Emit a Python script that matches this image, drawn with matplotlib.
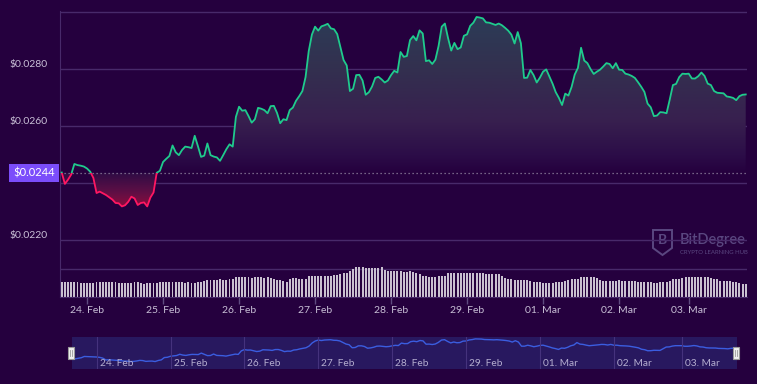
import numpy as np
import pandas as pd
import matplotlib
matplotlib.use('Agg')
import matplotlib.pyplot as plt
from matplotlib.patches import Rectangle, Polygon
from matplotlib.path import Path
from matplotlib.colors import LinearSegmentedColormap
from matplotlib.transforms import blended_transform_factory, ScaledTranslation

plt.rcParams['font.family'] = ['Lato', 'DejaVu Sans']

# hourly price (USD)
price = [
    0.02438, 0.02398, 0.02413, 0.02431, 0.02468, 0.02464, 0.02462, 0.02459, 0.02452, 0.02441,
    0.02419, 0.02366, 0.02371, 0.02365, 0.02359, 0.02351, 0.02343, 0.02331, 0.02330, 0.02319,
    0.02323, 0.02335, 0.02353, 0.02347, 0.02324, 0.02331, 0.02333, 0.02319, 0.02350, 0.02368,
    0.02437, 0.02444, 0.02475, 0.02486, 0.02496, 0.02533, 0.02509, 0.02499, 0.02517, 0.02529,
    0.02527, 0.02524, 0.02567, 0.02531, 0.02493, 0.02497, 0.02540, 0.02499, 0.02494, 0.02491,
    0.02479, 0.02499, 0.02520, 0.02537, 0.02529, 0.02633, 0.02669, 0.02655, 0.02657, 0.02636,
    0.02613, 0.02625, 0.02665, 0.02662, 0.02657, 0.02646, 0.02671, 0.02672, 0.02647, 0.02611,
    0.02625, 0.02622, 0.02657, 0.02666, 0.02690, 0.02706, 0.02724, 0.02773, 0.02864, 0.02922,
    0.02950, 0.02936, 0.02951, 0.02955, 0.02960, 0.02944, 0.02941, 0.02924, 0.02878, 0.02833,
    0.02814, 0.02724, 0.02732, 0.02780, 0.02781, 0.02761, 0.02711, 0.02720, 0.02740, 0.02770,
    0.02774, 0.02765, 0.02754, 0.02761, 0.02780, 0.02795, 0.02789, 0.02861, 0.02844, 0.02847,
    0.02903, 0.02917, 0.02902, 0.02937, 0.02926, 0.02829, 0.02832, 0.02819, 0.02834, 0.02882,
    0.02950, 0.02961, 0.02910, 0.02866, 0.02893, 0.02871, 0.02877, 0.02918, 0.02923, 0.02953,
    0.02964, 0.02984, 0.02982, 0.02979, 0.02965, 0.02964, 0.02960, 0.02956, 0.02961, 0.02955,
    0.02946, 0.02936, 0.02922, 0.02891, 0.02931, 0.02892, 0.02770, 0.02771, 0.02798, 0.02780,
    0.02754, 0.02771, 0.02792, 0.02800, 0.02775, 0.02750, 0.02720, 0.02700, 0.02675, 0.02715,
    0.02708, 0.02738, 0.02782, 0.02805, 0.02876, 0.02831, 0.02822, 0.02801, 0.02784, 0.02792,
    0.02799, 0.02810, 0.02822, 0.02819, 0.02804, 0.02822, 0.02799, 0.02798, 0.02785, 0.02782,
    0.02777, 0.02770, 0.02755, 0.02739, 0.02721, 0.02680, 0.02667, 0.02636, 0.02638, 0.02650,
    0.02649, 0.02646, 0.02694, 0.02745, 0.02749, 0.02773, 0.02785, 0.02784, 0.02785, 0.02768,
    0.02768, 0.02776, 0.02789, 0.02777, 0.02750, 0.02745, 0.02724, 0.02718, 0.02717, 0.02716,
    0.02705, 0.02703, 0.02700, 0.02692, 0.02706, 0.02711, 0.02712,
]

# hourly volume (millions)
volume = [
    15, 15, 15, 15, 15, 15, 14.5, 14, 14, 14,
    14, 14.7, 14.7, 14.7, 14.7, 14.7, 14.7, 14.7, 14, 14,
    14, 14, 14, 14.7, 14.7, 14.2, 13.2, 13.7, 13.7, 13.7,
    13.7, 14.7, 14.7, 14.7, 14.7, 14.7, 14.7, 14.7, 14.7, 14,
    14.7, 14, 14, 14.7, 15.3, 16.3, 17, 17, 17, 17,
    17.7, 17, 17, 17.7, 17.7, 19.7, 19.7, 19.7, 19.7, 19.7,
    19, 19.7, 19.7, 19.7, 19.3, 19.7, 19, 18, 17, 17,
    16.3, 15.3, 17.7, 18.7, 18.7, 18, 18, 18, 21, 21,
    21, 21, 21, 21, 21, 21, 22, 22, 22.7, 23.7,
    24, 26, 28.3, 30, 30, 30, 29.5, 29.5, 29.5, 29,
    29, 30, 27, 26, 25.7, 25.7, 25.7, 26, 25.3, 25.3,
    26, 25.3, 23.7, 23, 21.5, 21, 20.5, 20.3, 20.3, 21,
    21.3, 21.3, 23.7, 23.7, 23.7, 23.7, 23.7, 23.7, 23.7, 23.7,
    23.7, 23.7, 23.7, 23.7, 22.7, 22.7, 22.7, 22.7, 22.7, 21,
    19.3, 18.3, 17.7, 16.7, 16.7, 16.7, 16.7, 16.7, 16.3, 15.3,
    15.3, 15, 14.3, 14.3, 14.3, 14.3, 15, 15.3, 15.3, 16.3,
    17, 17.7, 17.7, 17.7, 20.3, 20.3, 20.3, 20.3, 20.3, 19.5,
    16.7, 16, 16, 16, 16, 16, 16.7, 16, 16, 16,
    16, 16, 15, 14.7, 14.7, 14.7, 14.7, 14, 13.7, 14.7,
    14.7, 14.7, 16.3, 18, 18, 18, 18.7, 19.7, 19.7, 19.7,
    19.7, 19.7, 19.7, 19.7, 19.7, 18.7, 18, 18, 16, 16,
    16, 16, 15.5, 14.7, 13.7, 13.3, 12.7,
]

current_price = 0.02436
current_label = '$0.0244'
price_ticks = [0.0220, 0.0240, 0.0260, 0.0280, 0.0300]
price_labels = ['$0.0220', '', '$0.0260', '$0.0280', '']

# hourly timestamps, two hours missing on 02 Mar (ordinal axis like the original)
times = pd.date_range('2024-02-23 16:00', periods=len(price), freq='h')
gap = pd.Timestamp('2024-03-02 12:00')
times = pd.DatetimeIndex([t if t < gap else t + pd.Timedelta(hours=2) for t in times])

idx = np.arange(len(price))
price_arr = np.array(price)
day_pos = np.where(times.hour == 0)[0]
day_labels = [t.strftime('%d. %b') for t in times[day_pos]]

BG = '#25003e'
GRID = '#48296a'
GREEN = '#1fcb8d'
RED = '#ff1762'
TXT = '#c8bfd6'

W, H = 757, 384
fig = plt.figure(figsize=(W / 100, H / 100), dpi=100, facecolor=BG)


def box(x0, y0, x1, y1):
    return [x0 / W, 1 - y1 / H, (x1 - x0) / W, (y1 - y0) / H]


xmin, xmax = -0.54, 216.4

# ---- price pane
ax = fig.add_axes(box(60, 11, 747, 297))
ax.set_facecolor('none')

fill = ax.fill_between(idx, price_arr, current_price, facecolor='none', edgecolor='none')
clip = Path.make_compound_path(*fill.get_paths())

top = 0.0300
up_cmap = LinearSegmentedColormap.from_list('up', [
    (0.0, BG), (0.11, '#2c0d48'), (0.33, '#38204f'), (0.65, '#33304f'), (1.0, '#2b3d58')])
down_cmap = LinearSegmentedColormap.from_list('down', [
    (0.0, '#920c3c'), (0.5, '#5c0f45'), (1.0, '#2f0c45')])
grad = np.linspace(0, 1, 256).reshape(-1, 1)
im_up = ax.imshow(grad, cmap=up_cmap, extent=(xmin, xmax, current_price, top),
                  origin='lower', aspect='auto', zorder=1, interpolation='bilinear')
im_up.set_clip_path(clip, ax.transData)
im_dn = ax.imshow(grad, cmap=down_cmap, extent=(xmin, xmax, 0.0231, current_price),
                  origin='lower', aspect='auto', zorder=1, interpolation='bilinear')
im_dn.set_clip_path(clip, ax.transData)

ax.axhline(current_price, color='#8f819f', lw=0.9, ls=(0, (1, 2.2)), zorder=2)

up_line, = ax.plot(idx, price_arr, color=GREEN, lw=1.3, zorder=3, solid_joinstyle='round')
up_line.set_clip_path(Rectangle((xmin, current_price), xmax - xmin, 1, transform=ax.transData))
dn_line, = ax.plot(idx, price_arr, color=RED, lw=1.3, zorder=3, solid_joinstyle='round')
dn_line.set_clip_path(Rectangle((xmin, current_price - 1), xmax - xmin, 1, transform=ax.transData))

ax.set_xlim(xmin, xmax)
ax.set_ylim(0.02001, 0.03005)
ax.set_xticks([])
ax.set_yticks(price_ticks)
ax.set_yticklabels(price_labels)
ax.tick_params(axis='y', length=0, pad=8.6, labelsize=7.5, labelcolor=TXT)
for lab in ax.get_yticklabels():
    lab.set_transform(lab.get_transform() + ScaledTranslation(0, 0.06, fig.dpi_scale_trans))
ax.grid(axis='y', color=GRID, lw=1)
ax.set_axisbelow(True)
for s in ['top', 'right', 'bottom']:
    ax.spines[s].set_visible(False)
ax.spines['left'].set_color(GRID)

# current price badge
bt = blended_transform_factory(fig.transFigure, ax.transData)
ax.add_patch(Rectangle((9 / W, current_price - 0.00033), 50 / W, 0.00066, transform=bt,
                       facecolor='#7b4dfb', edgecolor='none', clip_on=False, zorder=5))
ax.text(34 / W, current_price, current_label, transform=bt, ha='center', va='center',
        color='white', fontsize=8, clip_on=False, zorder=6)

# ---- volume pane
axv = fig.add_axes(box(60, 260, 747, 297))
axv.set_facecolor('none')
axv.bar(idx, volume, width=0.6, color='#c9c0d0', zorder=2, clip_on=False)
axv.axhline(28, color=GRID, lw=1, zorder=1)
axv.set_xlim(xmin, xmax)
axv.set_ylim(0, 37)
axv.set_yticks([])
axv.set_xticks(day_pos)
axv.set_xticklabels(day_labels)
axv.tick_params(axis='x', length=5, width=1, color='#5e4b80', pad=1.5, labelsize=7.5, labelcolor=TXT)
for s in ['top', 'right', 'left']:
    axv.spines[s].set_visible(False)
axv.spines['bottom'].set_color(GRID)

# ---- navigator
axn = fig.add_axes(box(72, 337, 737, 369))
axn.set_facecolor('#28185f')
axn.plot(idx, price_arr, color='#3b5de0', lw=1)
for p, lab in zip(day_pos, day_labels):
    axn.axvline(p, color='#45327d', lw=0.8)
    axn.text(p + 1, 0.18, lab, transform=blended_transform_factory(axn.transData, axn.transAxes),
             ha='left', va='center', fontsize=7.3, color='#b5aed0')
axn.set_xlim(0, len(price) - 1)
axn.set_ylim(0.0210, 0.0304)
axn.set_xticks([])
axn.set_yticks([])
for s in axn.spines.values():
    s.set_visible(False)

# navigator handles
for hx in (68, 733):
    fig.add_artist(Rectangle((hx / W, 1 - 359 / H), 6 / W, 12 / H, transform=fig.transFigure,
                             facecolor='#f0f0f0', edgecolor='#9a9a9a', lw=0.8))
    for dx in (2.3, 3.7):
        fig.add_artist(plt.Line2D([(hx + dx) / W] * 2, [1 - 356 / H, 1 - 350 / H],
                                  transform=fig.transFigure, color='#9a9a9a', lw=0.6))

# ---- watermark
WM = '#5a4780'
shield = [(653, 230), (672, 230), (672, 248), (662.5, 255), (653, 248)]
fig.add_artist(Polygon([(x / W, 1 - y / H) for x, y in shield], closed=True,
                       transform=fig.transFigure, facecolor='none', edgecolor=WM, lw=1.4, zorder=-1))
fig.text(662.5 / W, 1 - 240.5 / H, 'B', ha='center', va='center', fontsize=10,
         fontweight='bold', color=WM, zorder=-1)
fig.text(680 / W, 1 - 240 / H, 'BitDegree', ha='left', va='center', fontsize=10.5,
         fontweight='semibold', color=WM, zorder=-1)
fig.text(680 / W, 1 - 253 / H, 'CRYPTO LEARNING HUB', ha='left', va='center', fontsize=4.3,
         color=WM, zorder=-1)

fig.savefig('out.png', dpi=100, facecolor=BG)
